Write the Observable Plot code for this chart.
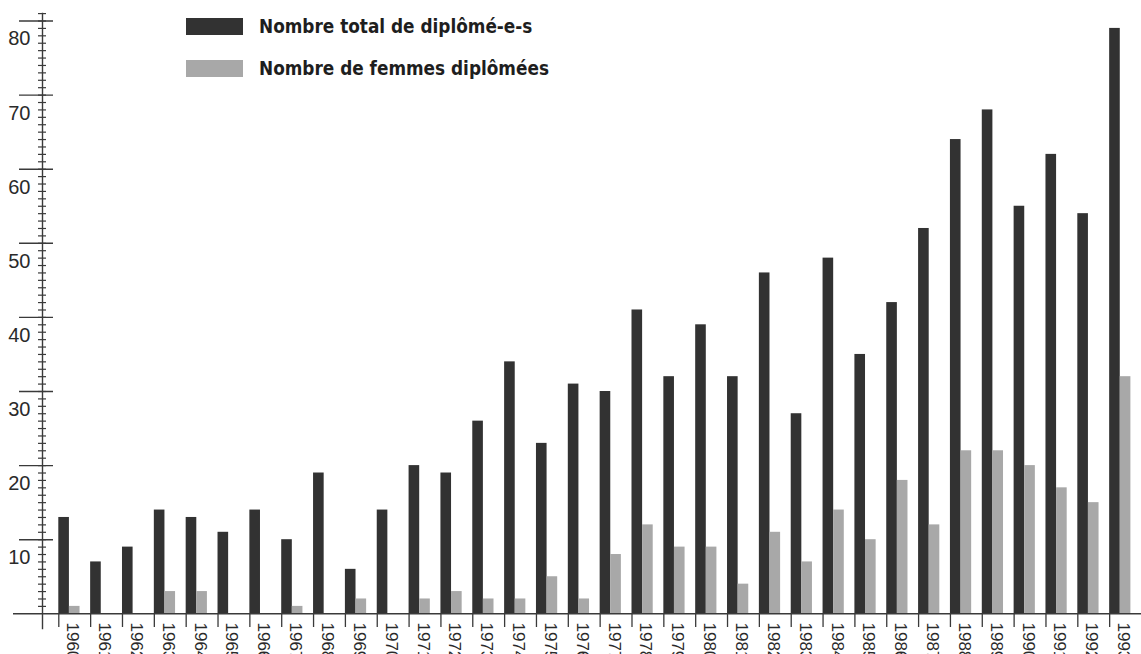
<!DOCTYPE html>
<html>
<head>
<meta charset="utf-8">
<script src="https://cdn.jsdelivr.net/npm/d3@7"></script>
<script src="https://cdn.jsdelivr.net/npm/@observablehq/plot@0.6"></script>
<style>
  html, body { margin: 0; padding: 0; background: #fff; }
  #wrap { position: relative; width: 1141px; height: 654px; overflow: hidden; background: #fff; }
  #wrap svg { position: absolute; left: 0; top: 0; }
  .lg-row { position: absolute; left: 186px; height: 17px; display: flex; align-items: center; }
  .lg-sw { width: 57px; height: 17px; flex: none; }
  .lg-tx { margin-left: 16px; font-family: "Liberation Sans Narrow", "Arial Narrow", "DejaVu Sans Condensed", sans-serif;
           font-weight: bold; font-size: 18.8px; color: #1e1e1e; white-space: nowrap; line-height: 17px; }
</style>
</head>
<body>
<div id="wrap"></div>
<script>
// ---- data ----
const years = ["1960","1961","1962","1963","1964","1965","1966","1967","1968","1969",
               "1970","1971","1972","1973","1974","1975","1976","1977","1978","1979",
               "1980","1981","1982","1983","1984","1985","1986","1987","1988","1989",
               "1990","1991","1992","1993"];
const totalGraduates = [13, 7, 9, 14, 13, 11, 14, 10, 19, 6,
                        14, 20, 19, 26, 34, 23, 31, 30, 41, 32,
                        39, 32, 46, 27, 48, 35, 42, 52, 64, 68,
                        55, 62, 54, 79];
const womenGraduates = [1, 0, 0, 3, 3, 0, 0, 1, 0, 2,
                        0, 2, 3, 2, 2, 5, 2, 8, 12, 9,
                        9, 4, 11, 7, 14, 10, 18, 12, 22, 22,
                        20, 17, 15, 32];
const seriesNames = ["Nombre total de diplômé-e-s", "Nombre de femmes diplômées"];
const seriesColors = ["#323232", "#a8a8a8"];
const majorTicks = [10, 20, 30, 40, 50, 60, 70, 80];
const minorTicks = d3.range(1, 82);

const data = years.map((y, i) => ({year: y, total: totalGraduates[i], women: womenGraduates[i]}));

// ---- layout ----
const W = 1141, H = 654;
const xStart = 58.3;
const bw = (W - xStart) / years.length;
const axisColor = "#3a3a3a";

const chart = Plot.plot({
  width: W,
  height: H,
  marginLeft: 42,
  marginRight: 0,
  marginTop: 13,
  marginBottom: H - 628,
  x: {type: "band", domain: years, range: [xStart, W], padding: 0, round: false},
  y: {domain: [0, 80], range: [613.3, 20.5]},
  style: {fontFamily: "'Liberation Sans', Arial, Helvetica, sans-serif", color: "#2a2a2a", background: "#fff"},
  marks: [
    Plot.barY(data, {x: "year", y: "total", fill: seriesColors[0], insetLeft: 0, insetRight: bw * 2 / 3}),
    Plot.barY(data, {x: "year", y: "women", fill: seriesColors[1], insetLeft: bw / 3, insetRight: bw / 3}),
    Plot.frame({anchor: "left", stroke: axisColor, strokeWidth: 1.4}),
    Plot.ruleY([0], {stroke: axisColor, strokeWidth: 1.4, insetLeft: -29}),
    Plot.axisY(minorTicks, {tickSize: 8, dx: 4, fill: "none", stroke: axisColor, strokeWidth: 1.2, label: null}),
    Plot.axisY(majorTicks, {tickSize: 34, dx: 11, fill: "none", stroke: axisColor, strokeWidth: 1.4, label: null}),
    Plot.axisY(majorTicks, {tickSize: 0, tickPadding: 12, dy: 18, fontSize: 20, fill: "#2a2a2a", label: null}),
    Plot.axisX({tickSize: 14, dx: -bw / 2, dy: -15, fill: "none", stroke: axisColor, strokeWidth: 1.3, label: null}),
    Plot.axisX({tickSize: 0, tickPadding: 0, tickRotate: 90, dx: -2, dy: -6, fontSize: 17, fill: "#2a2a2a", label: null})
  ]
});

const wrap = document.getElementById("wrap");
wrap.appendChild(chart);

// ---- legend (overlaid on the chart) ----
const legendTops = [18, 59.5];
seriesNames.forEach((name, i) => {
  const row = document.createElement("div");
  row.className = "lg-row";
  row.style.top = legendTops[i] + "px";
  const sw = document.createElement("div");
  sw.className = "lg-sw";
  sw.style.background = seriesColors[i];
  const tx = document.createElement("span");
  tx.className = "lg-tx";
  tx.textContent = name;
  row.appendChild(sw);
  row.appendChild(tx);
  wrap.appendChild(row);
});
</script>
</body>
</html>
